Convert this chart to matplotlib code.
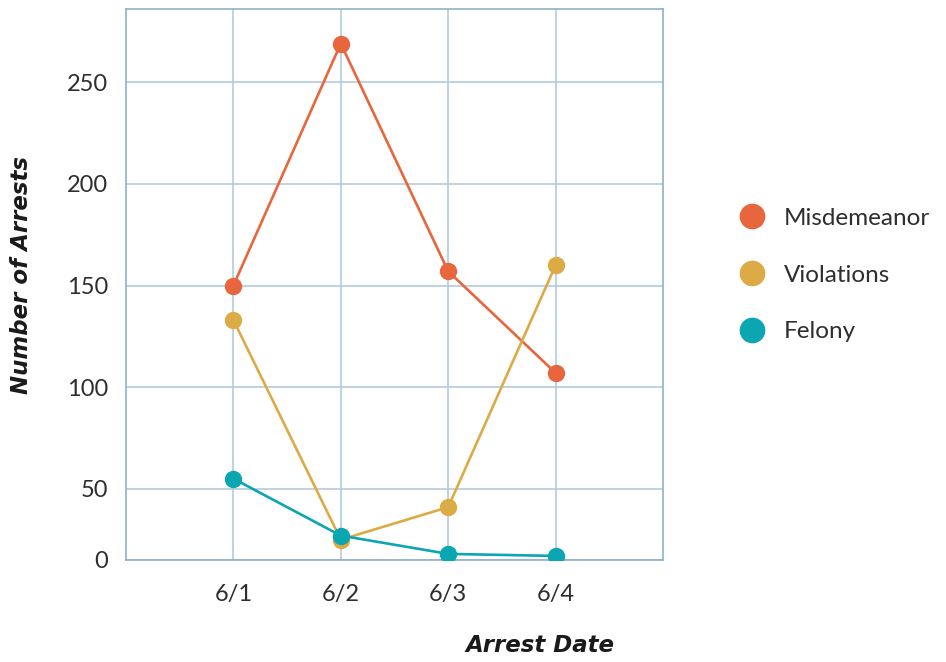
import matplotlib
matplotlib.use('Agg')
import matplotlib.pyplot as plt
from matplotlib.lines import Line2D

plt.rcParams['font.family'] = ['Lato', 'DejaVu Sans']

dates = ['6/1', '6/2', '6/3', '6/4']
misdemeanor = [150, 269, 157, 107]
violations = [133, 25, 41, 160]
felony = [55, 27, 18, 17]

series = [
    ('Misdemeanor', misdemeanor, '#e8663d'),
    ('Violations', violations, '#dcab45'),
    ('Felony', felony, '#0aa6b2'),
]

y_ticks = [15, 50, 100, 150, 200, 250]
y_tick_labels = ['0', '50', '100', '150', '200', '250']

GRID = '#b3cbdd'
SPINE = '#8fb0c8'
TEXT = '#2e2e2e'

fig = plt.figure(figsize=(9.46, 6.62), dpi=100)
ax = fig.add_axes([126 / 946, 102 / 662, 537 / 946, 551 / 662])

xs = list(range(1, len(dates) + 1))
for name, vals, colour in series:
    ax.plot(xs, vals, color=colour, lw=1.9, marker='o', ms=11.5,
            label=name, zorder=3, solid_capstyle='round')

ax.set_xlim(0, 5)
ax.set_ylim(15.3, 286)
ax.set_xticks(xs)
ax.set_xticklabels(dates)
ax.set_yticks(y_ticks)
ax.set_yticklabels(y_tick_labels)
ax.tick_params(length=0, labelsize=17, labelcolor=TEXT)
ax.tick_params(axis='y', pad=13)
ax.tick_params(axis='x', pad=17)

ax.grid(True, color=GRID, lw=1.2, zorder=0)
ax.set_axisbelow(True)
for sp in ax.spines.values():
    sp.set_color(SPINE)
    sp.set_linewidth(1.2)

label_font = dict(family='DejaVu Sans', fontsize=16.5, fontweight='bold',
                  style='italic', color='#1a1a1a')
fig.text(22 / 946, 1 - 275 / 662, 'Number of Arrests', rotation=90,
         ha='center', va='center', **label_font)
fig.text(540 / 946, 1 - 645 / 662, 'Arrest Date', ha='center', va='center',
         **label_font)

handles = [Line2D([], [], ls='none', marker='o', ms=18.5, color=c,
                  markeredgewidth=0) for _, _, c in series]
leg = fig.legend(handles, [n for n, _, _ in series],
                 loc='center left', bbox_to_anchor=(725 / 946, 1 - 275 / 662),
                 frameon=False, fontsize=17.5, labelspacing=1.47,
                 handletextpad=0.72, handlelength=1.2, borderpad=0)
for t in leg.get_texts():
    t.set_color(TEXT)

fig.savefig('out.png', dpi=100)
